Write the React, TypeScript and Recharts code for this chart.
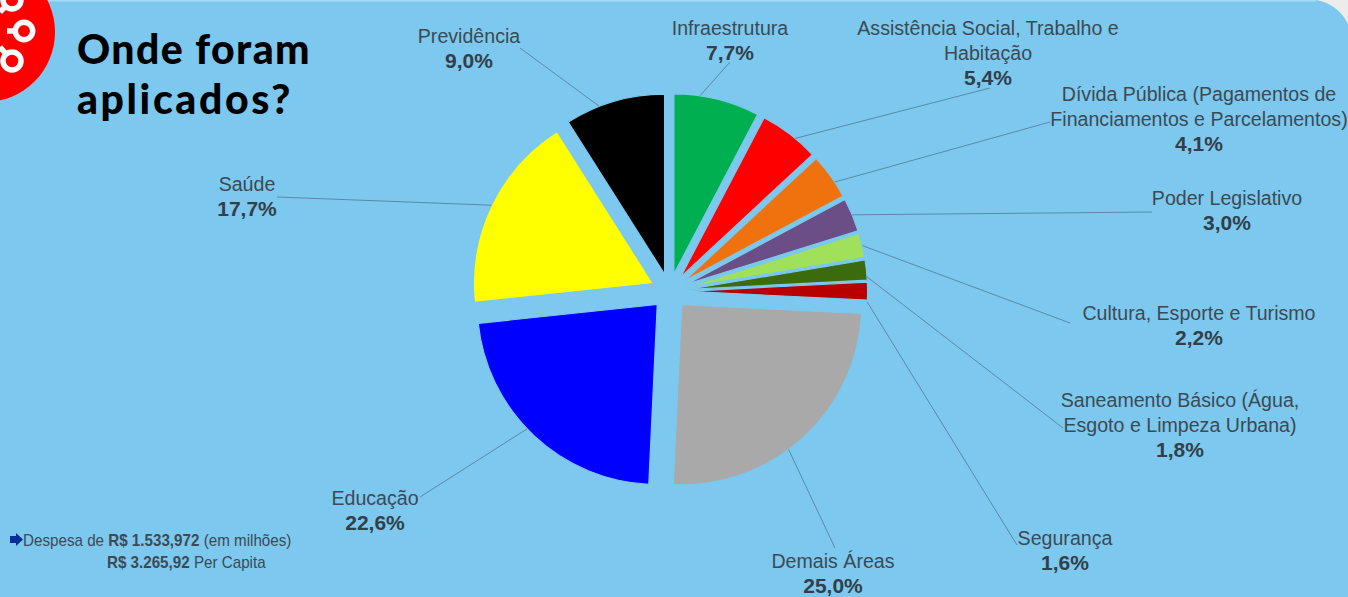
import { Pie, PieChart, Sector } from "recharts";

const BG = "#7cc8ee";
const INK = "#3c4a54";
const LEADER = "#5b8aa6";

const areas = [
  "Infraestrutura",
  "Assistência Social",
  "Dívida Pública",
  "Poder Legislativo",
  "Cultura",
  "Saneamento",
  "Segurança",
  "Demais Áreas",
  "Educação",
  "Saúde",
  "Previdência",
];
const shares = [7.7, 5.4, 4.1, 3.0, 2.2, 1.8, 1.6, 25.0, 22.6, 17.7, 9.0];
const colors = [
  "#00b050",
  "#ff0000",
  "#f0720f",
  "#6a4e85",
  "#a0e05a",
  "#3b6b0c",
  "#b80000",
  "#a9a9a9",
  "#0000ff",
  "#ffff00",
  "#000000",
];
const labelTexts = [
  ["Infraestrutura"],
  ["Assistência Social, Trabalho e", "Habitação"],
  ["Dívida Pública (Pagamentos de", "Financiamentos e Parcelamentos)"],
  ["Poder Legislativo"],
  ["Cultura, Esporte e Turismo"],
  ["Saneamento Básico (Água,", "Esgoto e Limpeza Urbana)"],
  ["Segurança"],
  ["Demais Áreas"],
  ["Educação"],
  ["Saúde"],
  ["Previdência"],
];
const shareTexts = ["7,7%", "5,4%", "4,1%", "3,0%", "2,2%", "1,8%", "1,6%", "25,0%", "22,6%", "17,7%", "9,0%"];

// layout das etiquetas: centro do texto, 1a linha, fim da linha de chamada
const labelX = [730, 988, 1199, 1227, 1199, 1180, 1065, 833, 375, 247, 469];
const labelY = [27, 27, 93, 197, 312, 399, 537, 560, 497, 183, 35];
const leaderEnd = [
  [730, 62],
  [990, 88],
  [1050, 122],
  [1152, 212],
  [1070, 323],
  [1063, 428],
  [1017, 545],
  [835, 548],
  [420, 497],
  [277, 197],
  [520, 48],
];
// graus a partir do meio da fatia, onde a linha encosta no arco
const leaderShift = [5, -2, -2, 0, 0, -2, -3.2, -5.3, -2.7, 0, 4.6];

const CX = 664.6;
const CY = 286.4;
const R = 180;
const EXPLODE = 18;
const RAD = Math.PI / 180;

const data = areas.map((name, i) => ({ name, value: shares[i], fill: colors[i] }));

function ExplodedSlice(props: any) {
  const mid = (props.startAngle + props.endAngle) / 2;
  return (
    <Sector
      {...props}
      cx={props.cx + EXPLODE * Math.cos(mid * RAD)}
      cy={props.cy - EXPLODE * Math.sin(mid * RAD)}
      stroke={BG}
      strokeWidth={1.2}
    />
  );
}

function SliceLabel(props: any) {
  const i = props.index;
  const angle = (props.midAngle + leaderShift[i]) * RAD;
  const lines = labelTexts[i];
  const x0 = props.cx + (R + EXPLODE) * Math.cos(angle);
  const y0 = props.cy - (R + EXPLODE) * Math.sin(angle);
  return (
    <g>
      <line x1={x0} y1={y0} x2={leaderEnd[i][0]} y2={leaderEnd[i][1]} stroke={LEADER} strokeWidth={1} />
      <text x={labelX[i]} textAnchor="middle" fontFamily="Liberation Sans" fontSize={19.6} fill={INK}>
        {lines.map((t, k) => (
          <tspan key={k} x={labelX[i]} y={labelY[i] + 1 + k * 25} dominantBaseline="central">
            {t}
          </tspan>
        ))}
        <tspan
          x={labelX[i]}
          y={labelY[i] + lines.length * 25}
          dominantBaseline="central"
          fontWeight="bold"
          fontSize={21}
          fill="#333f48"
        >
          {shareTexts[i]}
        </tspan>
      </text>
    </g>
  );
}

export default function App() {
  return (
    <div style={{ position: "absolute", left: 0, top: 0, width: 1348, height: 597, overflow: "hidden", background: BG }}>
      {/* canto e selo */}
      <svg width={1348} height={597} style={{ position: "absolute", left: 0, top: 0 }}>
        <path d="M1316 0 Q1338 4 1348 24 L1348 0 Z" fill="#ececec" />
        <rect x={0} y={0} width={1316} height={1.5} fill="#a6dcf5" />
        <circle cx={-15} cy={32} r={70} fill="#ff0000" />
        <g fill="none" stroke="#ffffff" strokeWidth={5.5}>
          <circle cx={24} cy={31} r={8.7} />
          <circle cx={12} cy={61} r={9} />
          <circle cx={12} cy={0} r={9} />
          <path d="M7 31 H15" />
          <path d="M0 47 L6 54" />
          <path d="M0 12 L5 7" />
        </g>
      </svg>

      <div
        style={{
          position: "absolute",
          left: 77,
          top: 24,
          fontFamily: "Lato",
          fontWeight: 900,
          fontSize: 41,
          letterSpacing: 1.4,
          lineHeight: "50px",
          color: "#000",
        }}
      >
        Onde foram
        <br />
        <span style={{ letterSpacing: 2.6 }}>aplicados?</span>
      </div>

      <PieChart width={1348} height={597} style={{ position: "absolute", left: 0, top: 0 }}>
        <Pie
          data={data}
          dataKey="value"
          nameKey="name"
          cx={CX}
          cy={CY}
          innerRadius={0}
          outerRadius={R}
          startAngle={90}
          endAngle={-270}
          shape={ExplodedSlice}
          label={SliceLabel}
          labelLine={false}
          isAnimationActive={false}
        />
      </PieChart>

      <div
        style={{
          position: "absolute",
          left: 23,
          top: 530,
          fontFamily: "Liberation Sans",
          fontSize: 17,
          lineHeight: "22px",
          color: INK,
          whiteSpace: "nowrap",
          transform: "scaleX(0.893)",
          transformOrigin: "left top",
        }}
      >
        Despesa de <b>R$ 1.533,972</b> (em milhões)
        <br />
        <span style={{ marginLeft: 94 }}>
          <b>R$ 3.265,92</b> Per Capita
        </span>
      </div>
      <svg width={16} height={16} style={{ position: "absolute", left: 9, top: 532 }}>
        <path d="M1 4 H7 V1 L14 7.5 L7 14 V11 H1 Z" fill="#0a2f9c" />
      </svg>
    </div>
  );
}
